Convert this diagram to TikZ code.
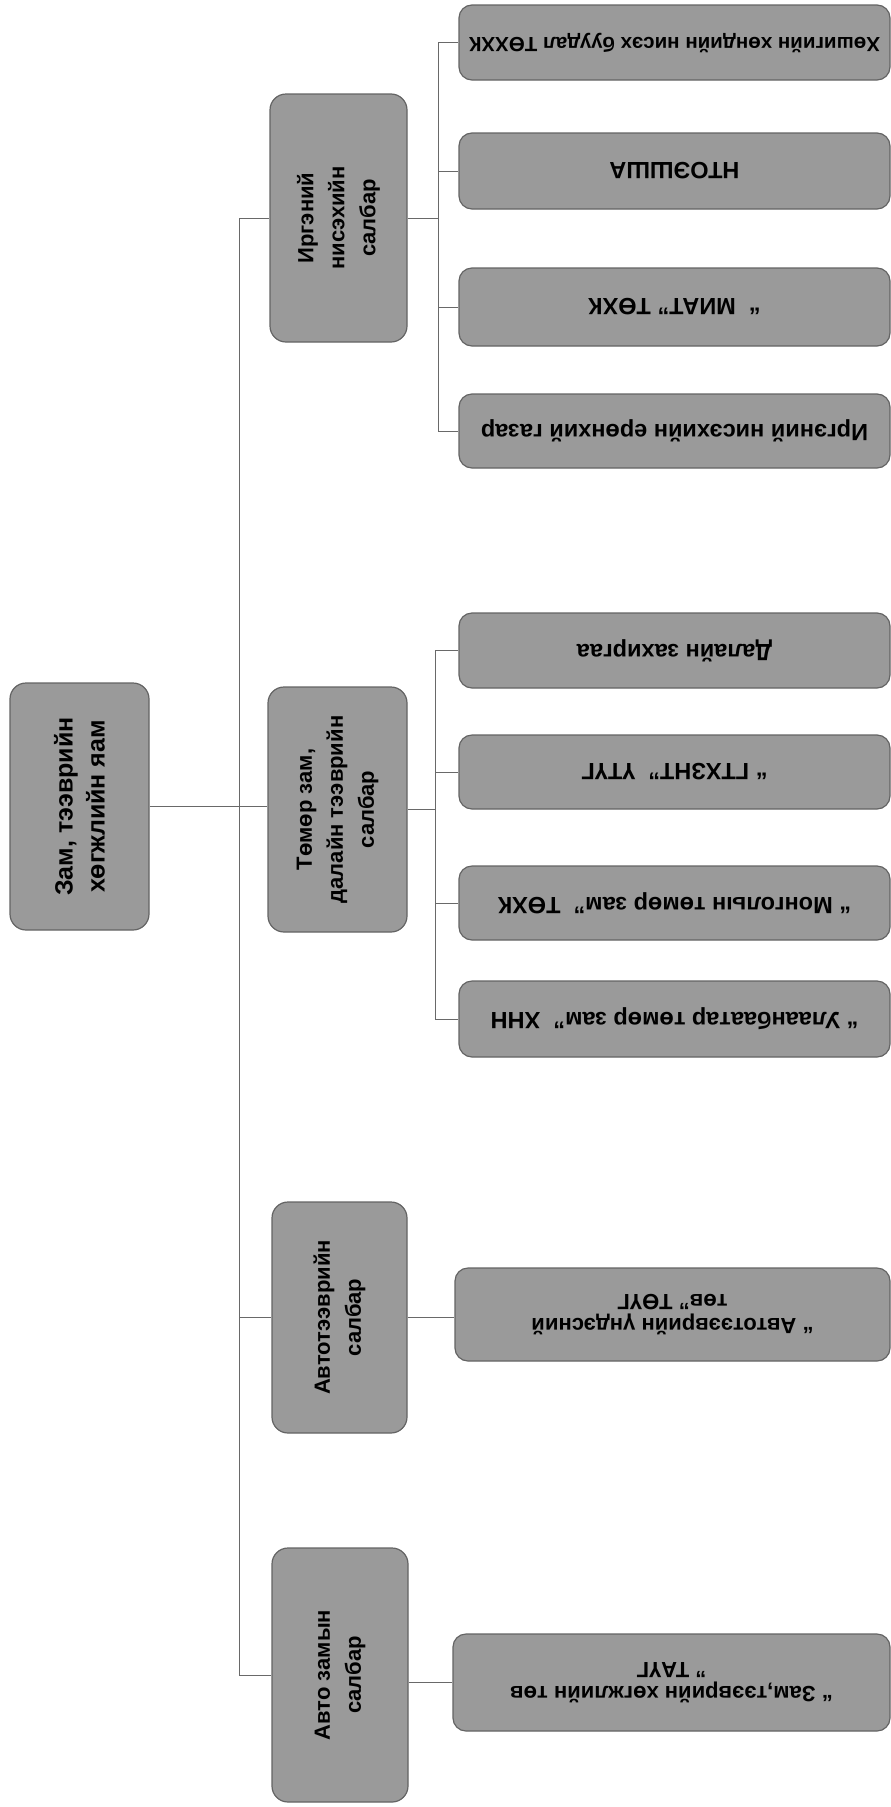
\documentclass[tikz,border=0pt]{standalone}
\usepackage{fontspec}
\setmainfont{Liberation Sans}
\definecolor{boxfill}{RGB}{154,154,154}
\definecolor{boxline}{RGB}{100,100,100}
\definecolor{connc}{RGB}{105,105,105}
\begin{document}
\begin{tikzpicture}[x=1pt,y=-1pt,
  box/.style={draw=boxline, line width=1.2pt, fill=boxfill, rounded corners=16pt, inner sep=0pt},
  cbox/.style={box, rounded corners=13pt},
  roottext/.style={rotate=90, align=center, text=black, font=\bfseries\fontsize{25}{32}\selectfont},
  vtext/.style={rotate=90, align=center, text=black, font=\bfseries\fontsize{22}{31}\selectfont},
  ctext/.style={rotate=180, align=center, text=black, font=\bfseries\fontsize{23.5}{25}\selectfont},
  conn/.style={draw=connc, line width=1pt}]
\useasboundingbox (0,0) rectangle (891,1807);
\fill[white] (0,0) rectangle (891,1807);

% level 1 and 2 boxes
\node[box, minimum width=139pt, minimum height=247pt] (root) at (79.5,806.5) {};
\node[roottext] (rootT) at (root) {Зам, тээврийн\\хөгжлийн яам};

\node[box, minimum width=137pt, minimum height=248pt] (irg) at (338.5,218) {};
\node[vtext] (irgT) at (irg) {Иргэний\\нисэхийн\\салбар};

\node[box, minimum width=139pt, minimum height=245pt] (tem) at (337.5,809.5) {};
\node[vtext] (temT) at (tem) {Төмөр зам,\\далайн тээврийн\\салбар};

\node[box, minimum width=135pt, minimum height=231pt] (avt) at (339.5,1317.5) {};
\node[vtext] (avtT) at (avt) {Автотээврийн\\салбар};

\node[box, minimum width=136pt, minimum height=254pt] (avz) at (340,1675) {};
\node[vtext] (avzT) at (avz) {Авто замын\\салбар};

% civil aviation children
\node[cbox, minimum width=431pt, minimum height=75pt] (i1) at (674.5,42.5) {};
\node[ctext, font=\bfseries\fontsize{20.5}{25}\selectfont] at (i1) {Хөшигийн хөндийн нисэх буудал ТӨХХК};
\node[cbox, minimum width=431pt, minimum height=76pt] (i2) at (674.5,171) {};
\node[ctext] at (i2) {НТОЭШША};
\node[cbox, minimum width=431pt, minimum height=78pt] (i3) at (674.5,307) {};
\node[ctext] at (i3) {“\ \ МИАТ”\ ТӨХК};
\node[cbox, minimum width=431pt, minimum height=74pt] (i4) at (674.5,431) {};
\node[ctext] at (i4) {Иргэний нисэхийн ерөнхий газар};

% rail and sea children
\node[cbox, minimum width=431pt, minimum height=75pt] (t1) at (674.5,650.5) {};
\node[ctext] at (t1) {Далайн захиргаа};
\node[cbox, minimum width=431pt, minimum height=74pt] (t2) at (674.5,772) {};
\node[ctext] at (t2) {“ ГТХЗНТ”\ \ ҮТҮГ};
\node[cbox, minimum width=431pt, minimum height=74pt] (t3) at (674.5,903) {};
\node[ctext] at (t3) {“ Монголын төмөр зам”\ \ ТӨХК};
\node[cbox, minimum width=431pt, minimum height=76pt] (t4) at (674.5,1019) {};
\node[ctext] at (t4) {“ Улаанбаатар төмөр зам”\ \ ХНН};

% road transport child
\node[cbox, minimum width=435pt, minimum height=93pt] (a1) at (672.5,1314.5) {};
\node[ctext, font=\bfseries\fontsize{22}{24}\selectfont] at (a1) {“ Автотээврийн үндэсний\\төв” ТӨҮГ};

% road child
\node[cbox, minimum width=437pt, minimum height=97pt] (z1) at (671.5,1682.5) {};
\node[ctext, font=\bfseries\fontsize{22}{24}\selectfont] at (z1) {“ Зам,тээврийн хөгжлийн төв\\” ТАҮГ};

% bus coordinates
\coordinate (bus) at (239,0);
\coordinate (ibus) at (438,0);
\coordinate (tbus) at (435,0);

% connectors
\draw[conn] (root.east) -- (root.east -| tem.west);
\draw[conn] (irg.west -| bus) -- (avz.west -| bus);
\draw[conn] (irg.west -| bus) -- (irg.west);
\draw[conn] (avt.west -| bus) -- (avt.west);
\draw[conn] (avz.west -| bus) -- (avz.west);

\draw[conn] (irg.east) -- (irg.east -| ibus);
\draw[conn] (i1.west -| ibus) -- (i4.west -| ibus);
\foreach \c in {i1,i2,i3,i4}{\draw[conn] (\c.west -| ibus) -- (\c.west);}

\draw[conn] (tem.east) -- (tem.east -| tbus);
\draw[conn] (t1.west -| tbus) -- (t4.west -| tbus);
\foreach \c in {t1,t2,t3,t4}{\draw[conn] (\c.west -| tbus) -- (\c.west);}

\draw[conn] (avt.east) -- (avt.east -| a1.west);
\draw[conn] (z1.west -| avz.east) -- (z1.west);
\end{tikzpicture}
\end{document}
